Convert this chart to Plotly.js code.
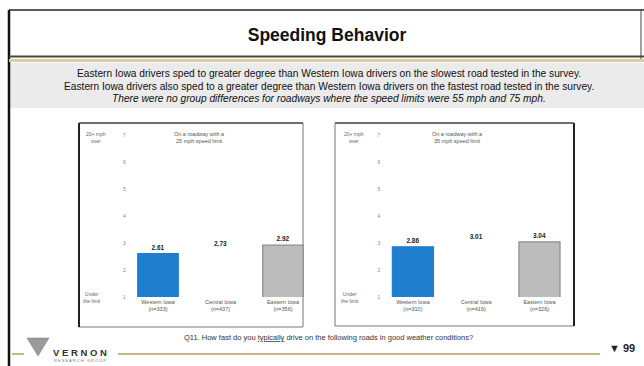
<!DOCTYPE html>
<html>
<head>
<meta charset="utf-8">
<script src="https://cdn.plot.ly/plotly-3.0.1.min.js"></script>
<style>html,body{margin:0;padding:0;background:#fff;}#chart{width:644px;height:366px;}</style>
</head>
<body>
<div id="chart"></div>
<script>
// ---- data ----
const leftCategories = ['Western Iowa<br>(n=333)', 'Central Iowa<br>(n=437)', 'Eastern Iowa<br>(n=356)'];
const rightCategories = ['Western Iowa<br>(n=310)', 'Central Iowa<br>(n=419)', 'Eastern Iowa<br>(n=326)'];
const leftValues = [2.61, 2.73, 2.92];
const rightValues = [2.86, 3.01, 3.04];
const leftTitle = 'On a roadway with a<br>25 mph speed limit';
const rightTitle = 'On a roadway with a<br>35 mph speed limit';
const tickValues = [1, 2, 3, 4, 5, 6, 7];
const tickLabels = ['1', '2', '3', '4', '5', '6', '7'];
const topLabel = '20+ mph<br>over';
const bottomLabel = 'Under<br>the limit';
const slideTitle = 'Speeding Behavior';
const summaryLines = [
  'Eastern Iowa drivers sped to greater degree than Western Iowa drivers on the slowest road tested in the survey.',
  'Eastern Iowa drivers also sped to a greater degree than Western Iowa drivers on the fastest road tested in the survey.',
  '<i>There were no group differences for roadways where the speed limits were 55 mph and 75 mph.</i>'
];
const question = 'Q11. How fast do you <u>typically</u> drive on the following roads in good weather conditions?';
const pageNumber = '▼ 99';

// ---- helpers (pixel -> paper) ----
const W = 644, H = 366;
const X = px => px / W;
const Y = py => 1 - py / H;

const barColors = ['#1f7fce', '#ffffff', '#bcbcbc'];
const barLines = ['#1f7fce', '#ffffff', '#8c8c8c'];

function barTrace(cats, vals, xa, ya) {
  return {
    type: 'bar', x: cats, y: vals, xaxis: xa, yaxis: ya,
    width: 0.65,
    marker: {color: barColors, line: {color: barLines, width: 1.2}},
    text: vals.map(v => '<b>' + v.toFixed(2) + '</b>'),
    textposition: 'outside',
    textfont: {size: 6.5, color: '#222', family: 'Liberation Sans'},
    cliponaxis: false,
    hoverinfo: 'skip',
    showlegend: false
  };
}

const data = [
  barTrace(leftCategories, leftValues, 'x', 'y'),
  barTrace(rightCategories, rightValues, 'x2', 'y2')
];

const yDomain = [Y(297), Y(135)];
const yAxisCommon = {
  domain: yDomain, range: [1, 7], tickvals: tickValues, ticktext: tickLabels,
  showgrid: false, zeroline: false, showline: false, ticks: '',
  tickfont: {size: 5, color: '#888', family: 'Liberation Sans'}, fixedrange: true
};
const xAxisCommon = {
  range: [-0.5, 2.5], showgrid: false, zeroline: false, showline: false, ticks: '',
  tickfont: {size: 5.5, color: '#555', family: 'Liberation Sans'}, fixedrange: true
};

const annotations = [];
summaryLines.forEach((t, i) => {
  annotations.push({text: t, x: X(329), y: Y(73 + i * 13), xref: 'paper', yref: 'paper',
    showarrow: false, xanchor: 'center', yanchor: 'middle',
    font: {size: 10.2, color: '#111', family: 'Liberation Sans Narrow, Liberation Sans'}});
});
[[leftTitle, 200], [rightTitle, 458]].forEach(([t, cx]) => {
  annotations.push({text: t, x: X(cx), y: Y(137), xref: 'paper', yref: 'paper', showarrow: false,
    xanchor: 'center', yanchor: 'middle', font: {size: 5.5, color: '#555', family: 'Liberation Sans'}});
});
[[96], [354]].forEach(([cx]) => {
  annotations.push({text: topLabel, x: X(cx), y: Y(137), xref: 'paper', yref: 'paper', showarrow: false,
    xanchor: 'center', yanchor: 'middle', font: {size: 5, color: '#666', family: 'Liberation Sans'}});
  annotations.push({text: bottomLabel, x: X(cx - 4), y: Y(297), xref: 'paper', yref: 'paper', showarrow: false,
    xanchor: 'center', yanchor: 'middle', font: {size: 5, color: '#666', family: 'Liberation Sans'}});
});
annotations.push({text: question, x: X(328), y: Y(337), xref: 'paper', yref: 'paper', showarrow: false,
  xanchor: 'center', yanchor: 'middle', font: {size: 7.5, color: '#333', family: 'Liberation Sans'}});
annotations.push({text: '<b>' + pageNumber + '</b>', x: X(637), y: Y(348), xref: 'paper', yref: 'paper', showarrow: false,
  xanchor: 'right', yanchor: 'middle', font: {size: 11, color: '#222', family: 'Liberation Sans'}});
annotations.push({text: '<b>V E R N O N</b>', x: X(51), y: Y(352), xref: 'paper', yref: 'paper', showarrow: false,
  xanchor: 'left', yanchor: 'middle', font: {size: 9.5, color: '#333', family: 'Liberation Sans'}});
annotations.push({text: 'R E S E A R C H   G R O U P', x: X(52), y: Y(360), xref: 'paper', yref: 'paper', showarrow: false,
  xanchor: 'left', yanchor: 'middle', font: {size: 4, color: '#777', family: 'Liberation Sans'}});

const shapes = [
  // summary band
  {type: 'rect', xref: 'paper', yref: 'paper', x0: X(9), x1: X(644), y0: Y(108), y1: Y(63), fillcolor: '#ebebeb', line: {width: 0}, layer: 'below'},
  // frame
  {type: 'line', xref: 'paper', yref: 'paper', x0: X(9), x1: X(644), y0: Y(10), y1: Y(10), line: {color: '#222', width: 1.5}},
  {type: 'line', xref: 'paper', yref: 'paper', x0: X(9), x1: X(9), y0: Y(10), y1: Y(366), line: {color: '#111', width: 2.5}},
  {type: 'line', xref: 'paper', yref: 'paper', x0: X(641), x1: X(641), y0: Y(10), y1: Y(62), line: {color: '#444', width: 1}},
  // title underline + colored stripe
  {type: 'line', xref: 'paper', yref: 'paper', x0: X(9), x1: X(644), y0: Y(56.5), y1: Y(56.5), line: {color: '#4a4440', width: 2}},
  {type: 'line', xref: 'paper', yref: 'paper', x0: X(9), x1: X(644), y0: Y(60.5), y1: Y(60.5), line: {color: '#d9cf9c', width: 3}},
  // panels
  {type: 'rect', xref: 'paper', yref: 'paper', x0: X(79), x1: X(303), y0: Y(327), y1: Y(123), fillcolor: '#ffffff', line: {color: '#777', width: 1}, layer: 'below'},
  {type: 'line', xref: 'paper', yref: 'paper', x0: X(79), x1: X(79), y0: Y(123), y1: Y(327), line: {color: '#222', width: 2}},
  {type: 'line', xref: 'paper', yref: 'paper', x0: X(79), x1: X(303), y0: Y(123), y1: Y(123), line: {color: '#555', width: 1.5}},
  {type: 'rect', xref: 'paper', yref: 'paper', x0: X(335), x1: X(574), y0: Y(326), y1: Y(123), fillcolor: '#ffffff', line: {color: '#777', width: 1}, layer: 'below'},
  {type: 'line', xref: 'paper', yref: 'paper', x0: X(574), x1: X(574), y0: Y(123), y1: Y(326), line: {color: '#222', width: 2}},
  {type: 'line', xref: 'paper', yref: 'paper', x0: X(335), x1: X(574), y0: Y(123), y1: Y(123), line: {color: '#555', width: 1.5}},
  // footer gold line
  {type: 'line', xref: 'paper', yref: 'paper', x0: X(118), x1: X(600), y0: Y(354), y1: Y(354), line: {color: '#b59d5e', width: 1.5}},
  {type: 'line', xref: 'paper', yref: 'paper', x0: X(12), x1: X(24), y0: Y(354), y1: Y(354), line: {color: '#b59d5e', width: 1.5}},
  // logo triangle
  {type: 'path', xref: 'paper', yref: 'paper', path: `M ${X(27)} ${Y(338)} L ${X(49)} ${Y(338)} L ${X(38)} ${Y(356)} Z`, fillcolor: '#9a9a9a', line: {color: '#777', width: 0.5}}
];

const layout = {
  width: W, height: H,
  margin: {l: 0, r: 0, t: 0, b: 0},
  paper_bgcolor: '#ffffff', plot_bgcolor: 'rgba(0,0,0,0)',
  title: {text: '<b>' + slideTitle + '</b>', x: X(327), xanchor: 'center', y: Y(35), yanchor: 'middle',
    font: {size: 17.5, color: '#111', family: 'Liberation Sans'}},
  xaxis: Object.assign({}, xAxisCommon, {domain: [X(126.75), X(314.25)], anchor: 'y'}),
  yaxis: Object.assign({}, yAxisCommon, {anchor: 'x'}),
  xaxis2: Object.assign({}, xAxisCommon, {domain: [X(381.3), X(571.1)], anchor: 'y2'}),
  yaxis2: Object.assign({}, yAxisCommon, {anchor: 'x2'}),
  bargap: 0.35,
  shapes: shapes,
  annotations: annotations,
  showlegend: false
};

Plotly.newPlot('chart', data, layout, {displayModeBar: false, staticPlot: true});
</script>
</body>
</html>
